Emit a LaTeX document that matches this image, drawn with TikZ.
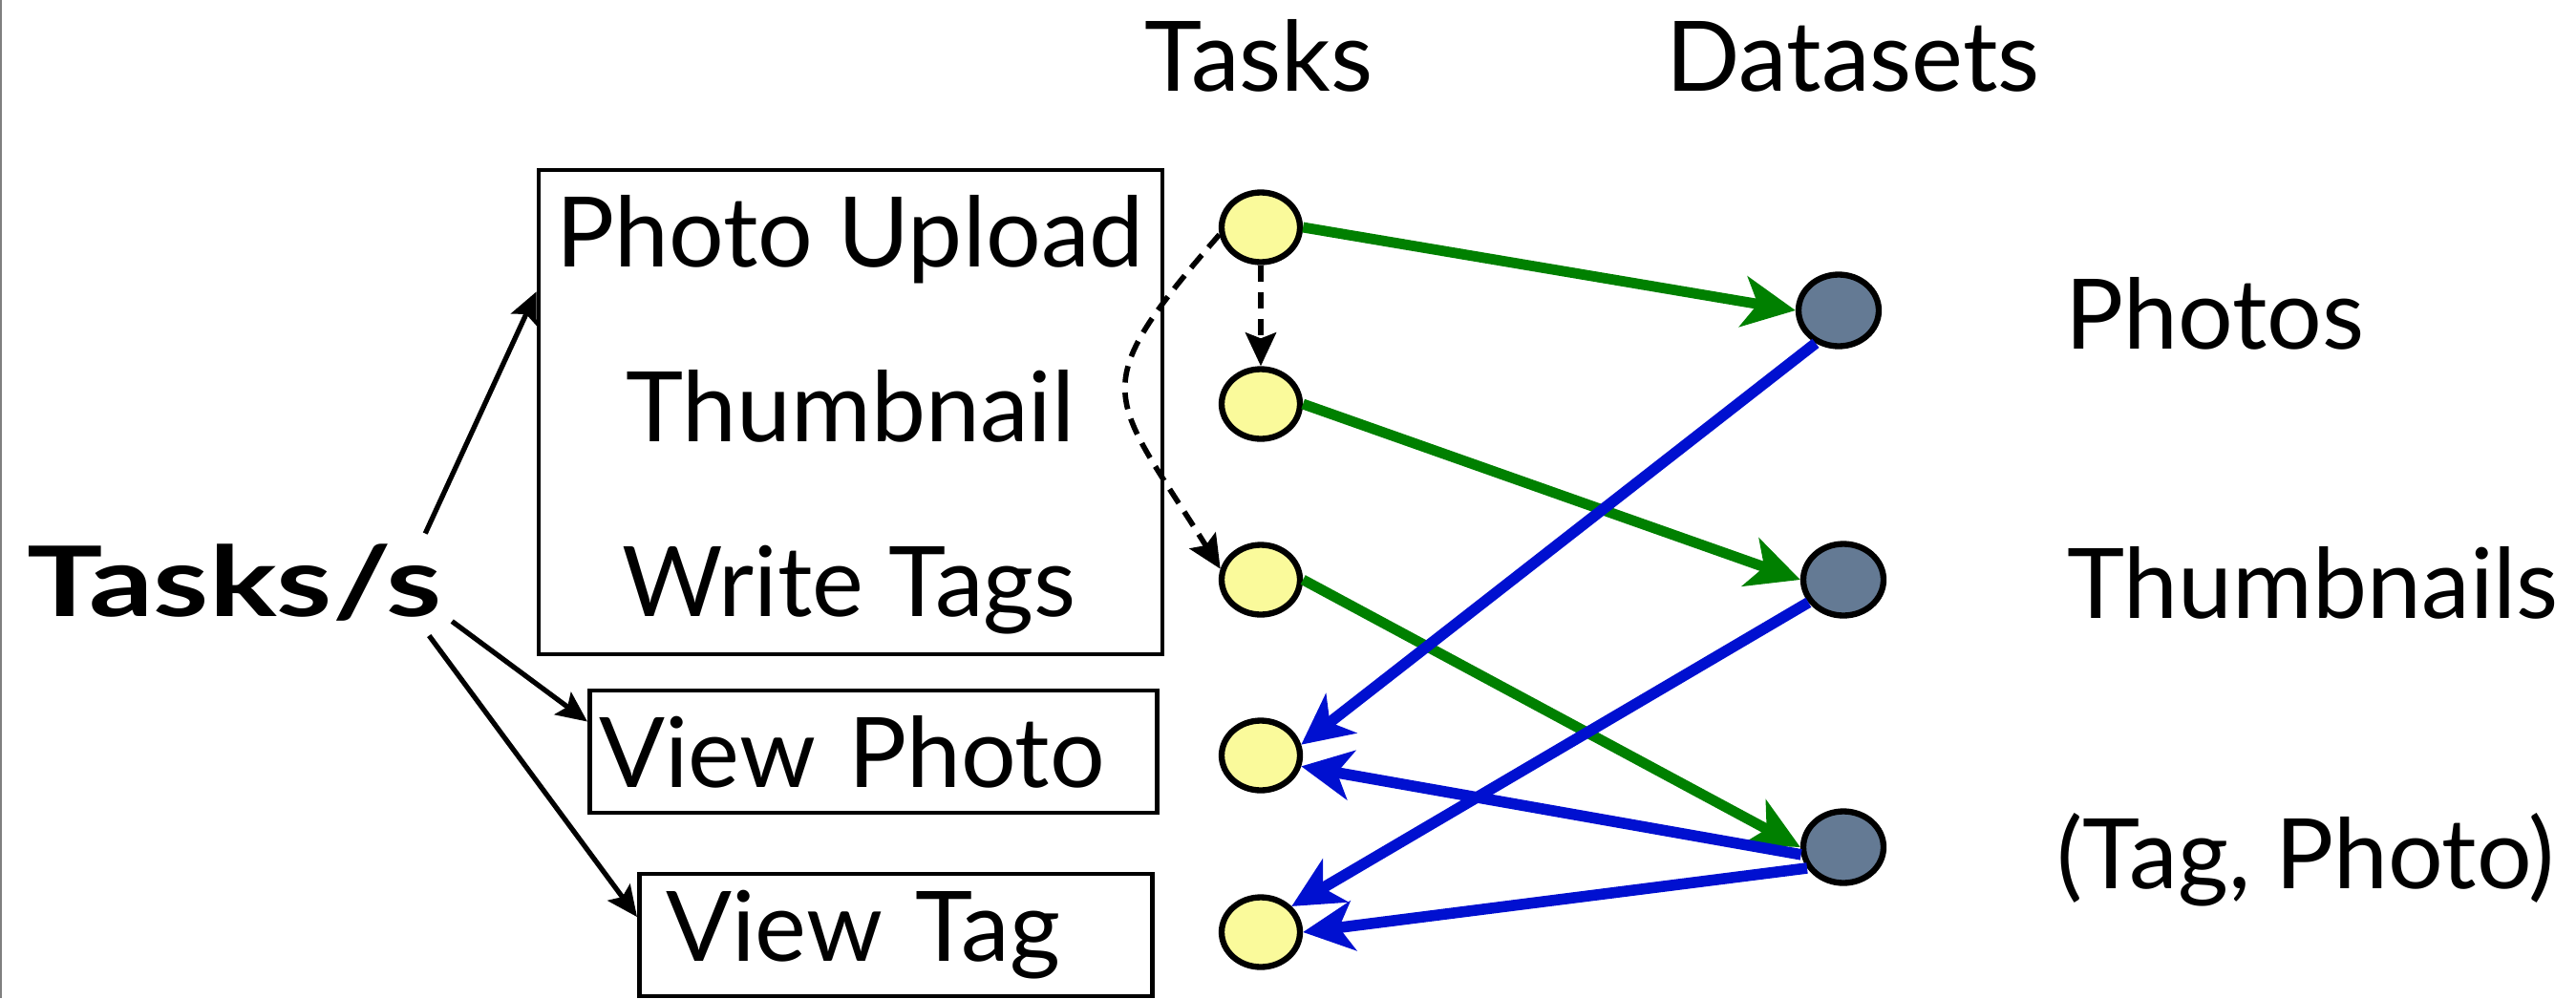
\documentclass[tikz,border=0pt]{standalone}
\usepackage{fontspec}
\setmainfont{Lato}
\usetikzlibrary{arrows.meta, shapes.geometric}
\definecolor{taskyellow}{RGB}{250,250,155}
\definecolor{dataslate}{RGB}{100,122,148}
\definecolor{flowgreen}{RGB}{0,128,0}
\definecolor{flowblue}{RGB}{0,16,208}

\begin{document}
\begin{tikzpicture}[
    font=\fontsize{29pt}{34pt}\selectfont,
    task/.style={ellipse, draw, line width=1.8pt, fill=taskyellow, minimum width=0.82cm, minimum height=0.73cm, inner sep=0},
    dataset/.style={ellipse, draw, line width=1.8pt, fill=dataslate, minimum width=0.84cm, minimum height=0.75cm, inner sep=0},
    taskbox/.style={draw, line width=1.3pt, inner ysep=0, align=left, minimum height=1.28cm, anchor=west},
    feed/.style={-{Stealth[length=3.2mm, width=2.9mm, inset=0.6mm]}, line width=1.5pt},
    spawn/.style={-{Stealth[length=3.5mm, width=3.2mm, inset=0.6mm]}, line width=1.6pt, dash pattern=on 5pt off 3pt},
    writes/.style={-{Stealth[length=5.5mm, width=5.3mm, inset=1.5mm]}, line width=3.1pt, draw=flowgreen},
    reads/.style={-{Stealth[length=5.3mm, width=5.2mm, inset=1.5mm]}, line width=3.3pt, draw=flowblue}
]
    \useasboundingbox (0,0) rectangle (26.97,-10.45);
    \draw[gray, line width=0.6pt] (0.01,0) -- (0.01,-10.45);

    % headers
    \node[anchor=base] (hTasks) at (13.18,-0.95) {Tasks};
    \node[anchor=base] (hData) at (19.40,-0.95) {Datasets};

    % request rate and task groups
    \node[anchor=base, inner sep=0, font=\fontsize{29pt}{34pt}\selectfont\bfseries] (tps) at (2.455,-6.45) {\scalebox{1.3}[1]{Tasks/s}};
    \node[draw, line width=1.3pt, minimum width=6.53cm, minimum height=5.07cm, inner sep=0] (grp) at (8.905,-4.315) {};
    \node[anchor=base] (lUpload) at (8.90,-2.79) {Photo Upload};
    \node[anchor=base] (lThumb) at (8.90,-4.62) {Thumbnail};
    \node[anchor=base] (lWrite) at (8.89,-6.45) {Write Tags};
    \node[taskbox, inner xsep=0.1cm, text width=5.74cm] (vPhoto) at (6.15,-7.87) {View Photo};
    \node[taskbox, inner xsep=0.28cm, text width=4.81cm] (vTag) at (6.67,-9.79) {View Tag};

    \draw[feed] ([xshift=-1.8mm, yshift=1mm]tps.north east) -- (grp.159.6);
    \draw[feed] ([xshift=1mm]tps.south east) -- (vPhoto.174.9);
    \draw[feed] ([xshift=-1.4mm, yshift=-1.5mm]tps.south east) -- (vTag.176.6);

    % tasks
    \node[task] (t1) at (13.20,-2.38) {};
    \node[task] (t2) at (13.20,-4.23) {};
    \node[task] (t3) at (13.20,-6.07) {};
    \node[task] (t4) at (13.20,-7.91) {};
    \node[task] (t5) at (13.20,-9.76) {};

    % datasets
    \node[dataset] (d1) at (19.25,-3.25) {};
    \node[dataset] (d2) at (19.30,-6.07) {};
    \node[dataset] (d3) at (19.30,-8.87) {};
    \node[anchor=base west] (nPhotos) at (21.50,-3.65) {Photos};
    \node[anchor=base west] (nThumbs) at (21.52,-6.47) {Thumbnails};
    \node[anchor=base west] (nTags) at (21.41,-9.30) {(Tag, Photo)};

    % task chain
    \draw[spawn] (t1.south) -- (t2.north);
    \draw[spawn] (t1.190) to[out=229, in=122, looseness=1.6] (t3.165);

    % writes
    \draw[writes] (t1.east) -- (d1.west);
    \draw[writes] (t2.east) -- (d2.west);
    \draw[writes] (t3.east) -- (d3.west);

    % reads
    \draw[reads] (d1.235) -- (t4.15);
    \draw[reads] (d2.213) -- (t5.40);
    \draw[reads] (d3.190) -- (t4.-15);
    \draw[reads] (d3.210) -- (t5.east);
\end{tikzpicture}
\end{document}
